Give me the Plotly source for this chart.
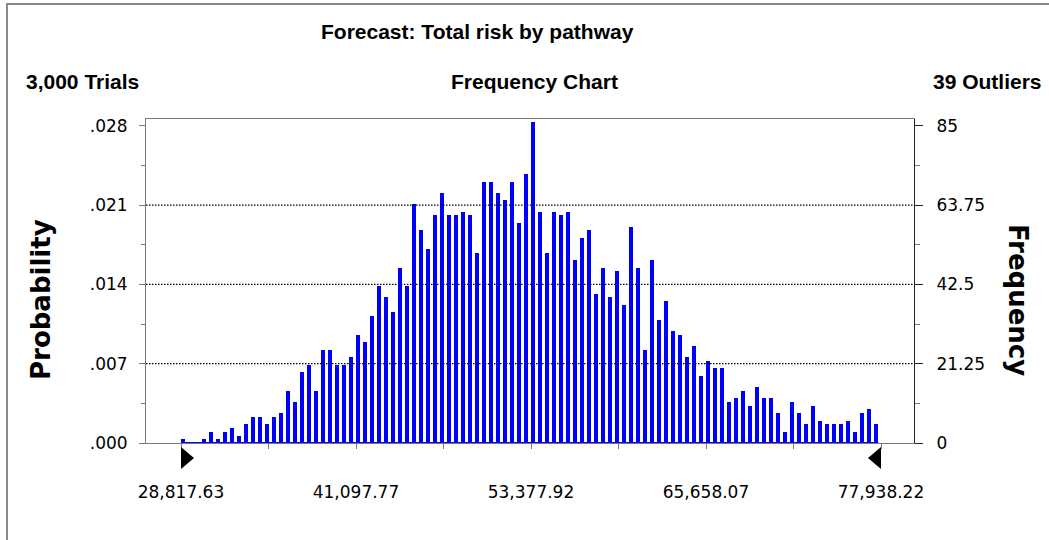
import plotly.graph_objects as go

# ---------------- data ----------------
trials = 3000
outliers = 39
x_min = 28817.63
x_max = 77938.22
frequency = [
    1, 0, 0, 1, 3, 1, 3, 4, 2, 5, 7, 7, 5, 7, 8, 14, 11, 19, 21, 14, 25, 25, 21, 21,
    23, 29, 27, 34, 42, 39, 35, 47, 42, 64, 57, 52, 61, 67, 61, 61, 62, 61, 51, 70, 70, 67, 65, 70, 59,
    72, 86, 62, 51, 62, 61, 62, 49, 55, 57, 40, 47, 39, 46, 37, 58, 47, 25, 49, 33, 38, 30, 29, 23,
    26, 18, 22, 20, 20, 11, 12, 14, 10, 15, 12, 12, 8, 3, 11, 8, 5, 10, 6, 5, 5, 5, 6, 3, 8, 9, 5,
]
x_tick_labels = ["28,817.63", "41,097.77", "53,377.92", "65,658.07", "77,938.22"]
freq_ticks = [0, 21.25, 42.5, 63.75, 85]
freq_tick_labels = ["0", "21.25", "42.5", "63.75", "85"]
prob_tick_labels = [".000", ".007", ".014", ".021", ".028"]
title_text = "Forecast: Total risk by pathway"
subtitle_left = f"{trials:,} Trials"
subtitle_mid = "Frequency Chart"
subtitle_right = f"{outliers} Outliers"

# ---------------- geometry / style ----------------
W, H = 1049, 540
L, R, T, B = 146, 135, 119, 97
PW, PH = W - L - R, H - T - B


def pxx(x):
    return (x - L) / PW


def pxy(y):
    return (H - B - y) / PH


n = len(frequency)
bin_w = (x_max - x_min) / n
edges = [x_min + i * bin_w for i in range(n)]
dpp = (x_max - x_min) / 700.0  # data units per pixel
x_range = [x_min - 35 * dpp, x_max + 33 * dpp]
y_top = 86.8

half = (x_max - x_min) / 8
x_tickvals = [x_min + k * half for k in range(9)]
x_ticktext = [x_tick_labels[k // 2] if k % 2 == 0 else "" for k in range(9)]
minor_vals = [(freq_ticks[i] + freq_ticks[i + 1]) / 2 for i in range(len(freq_ticks) - 1)]

BLUE = "#0000FF"
GRAY = "#7a7a7a"
tick_font = dict(family="DejaVu Sans", size=17, color="black")

fig = go.Figure()
fig.add_trace(go.Bar(
    x=edges, y=frequency, offset=0, width=bin_w * 0.62,
    marker=dict(color=BLUE, line=dict(width=0)),
    showlegend=False, hoverinfo="skip",
))
fig.add_trace(go.Scatter(
    x=[edges[0], edges[-1] + bin_w * 0.62], y=[0, 0], mode="lines",
    line=dict(color=BLUE, width=2), cliponaxis=False,
    showlegend=False, hoverinfo="skip",
))
# invisible trace to activate right axis
fig.add_trace(go.Scatter(
    x=[edges[0]], y=[0], yaxis="y2", mode="markers",
    marker=dict(opacity=0), showlegend=False, hoverinfo="skip",
))

fig.update_layout(
    width=W, height=H,
    margin=dict(l=L, r=R, t=T, b=B),
    paper_bgcolor="white", plot_bgcolor="white",
    bargap=0,
    xaxis=dict(
        range=x_range, tickvals=x_tickvals, ticktext=x_ticktext,
        ticks="outside", ticklen=5, tickcolor=GRAY, tickwidth=1,
        showline=True, linecolor=GRAY, linewidth=1, mirror=True,
        showgrid=False, zeroline=False, tickfont=tick_font,
        ticklabelstandoff=29, layer="below traces",
    ),
    yaxis=dict(
        range=[0, y_top], tickvals=freq_ticks, ticktext=prob_tick_labels,
        ticks="outside", ticklen=6, tickcolor=GRAY,
        minor=dict(tickvals=minor_vals, ticks="outside", ticklen=4, tickcolor=GRAY),
        showline=True, linecolor=GRAY, linewidth=1,
        showgrid=False, zeroline=False, tickfont=tick_font,
        ticklabelstandoff=8, layer="below traces",
    ),
    yaxis2=dict(
        range=[0, y_top], tickvals=freq_ticks, ticktext=freq_tick_labels,
        overlaying="y", side="right",
        ticks="outside", ticklen=8, tickcolor="#222222",
        minor=dict(tickvals=minor_vals, ticks="outside", ticklen=5, tickcolor=GRAY),
        showline=True, linecolor="#222222", linewidth=1,
        showgrid=False, zeroline=False, tickfont=tick_font,
        ticklabelstandoff=10,
    ),
)

shapes = []
# dotted gridlines at interior ticks
for v in freq_ticks[1:-1]:
    shapes.append(dict(type="line", xref="paper", yref="y", x0=0, x1=1, y0=v, y1=v,
                       line=dict(color="black", width=1.2, dash="1.5px,1.5px"), layer="above"))
# range end markers (anchored at data min / max, below the axis)
shapes.append(dict(type="path", xref="x", yref="paper", xsizemode="pixel", ysizemode="pixel",
                   xanchor=x_min, yanchor=0, path="M 0,-4 L 0,-26 L 13,-15 Z",
                   fillcolor="black", line=dict(width=0)))
shapes.append(dict(type="path", xref="x", yref="paper", xsizemode="pixel", ysizemode="pixel",
                   xanchor=x_max, yanchor=0, path="M 0,-4 L 0,-26 L -13,-15 Z",
                   fillcolor="black", line=dict(width=0)))
# outer border (top and left)
shapes.append(dict(type="line", xref="paper", yref="paper", x0=pxx(6), x1=pxx(W), y0=pxy(4), y1=pxy(4),
                   line=dict(color="#8a8a8a", width=2)))
shapes.append(dict(type="line", xref="paper", yref="paper", x0=pxx(7), x1=pxx(7), y0=pxy(4), y1=pxy(H),
                   line=dict(color="#8a8a8a", width=2)))
fig.update_layout(shapes=shapes)

head_font = dict(family="Liberation Sans, Arial", size=21, color="black", weight="bold")
axis_title_font = dict(family="DejaVu Sans", size=26, color="black", weight="bold")
annotations = [
    dict(text=title_text, x=pxx(477), y=pxy(32), xanchor="center", yanchor="middle", font=head_font),
    dict(text=subtitle_left, x=pxx(24), y=pxy(82), xanchor="left", yanchor="middle", font=head_font),
    dict(text=subtitle_mid, x=pxx(534), y=pxy(82), xanchor="center", yanchor="middle", font=head_font),
    dict(text=subtitle_right, x=pxx(1044), y=pxy(82), xanchor="right", yanchor="middle", font=head_font),
    dict(text="Probability", x=pxx(41), y=pxy(300), xanchor="center", yanchor="middle",
         textangle=-90, font=axis_title_font),
    dict(text="Frequency", x=pxx(1018), y=pxy(300), xanchor="center", yanchor="middle",
         textangle=90, font=axis_title_font),
]
for a in annotations:
    a.update(xref="paper", yref="paper", showarrow=False)
fig.update_layout(annotations=annotations)

fig.write_html("out.html", config={"displayModeBar": False},
               post_script="document.body.style.margin='0';")
